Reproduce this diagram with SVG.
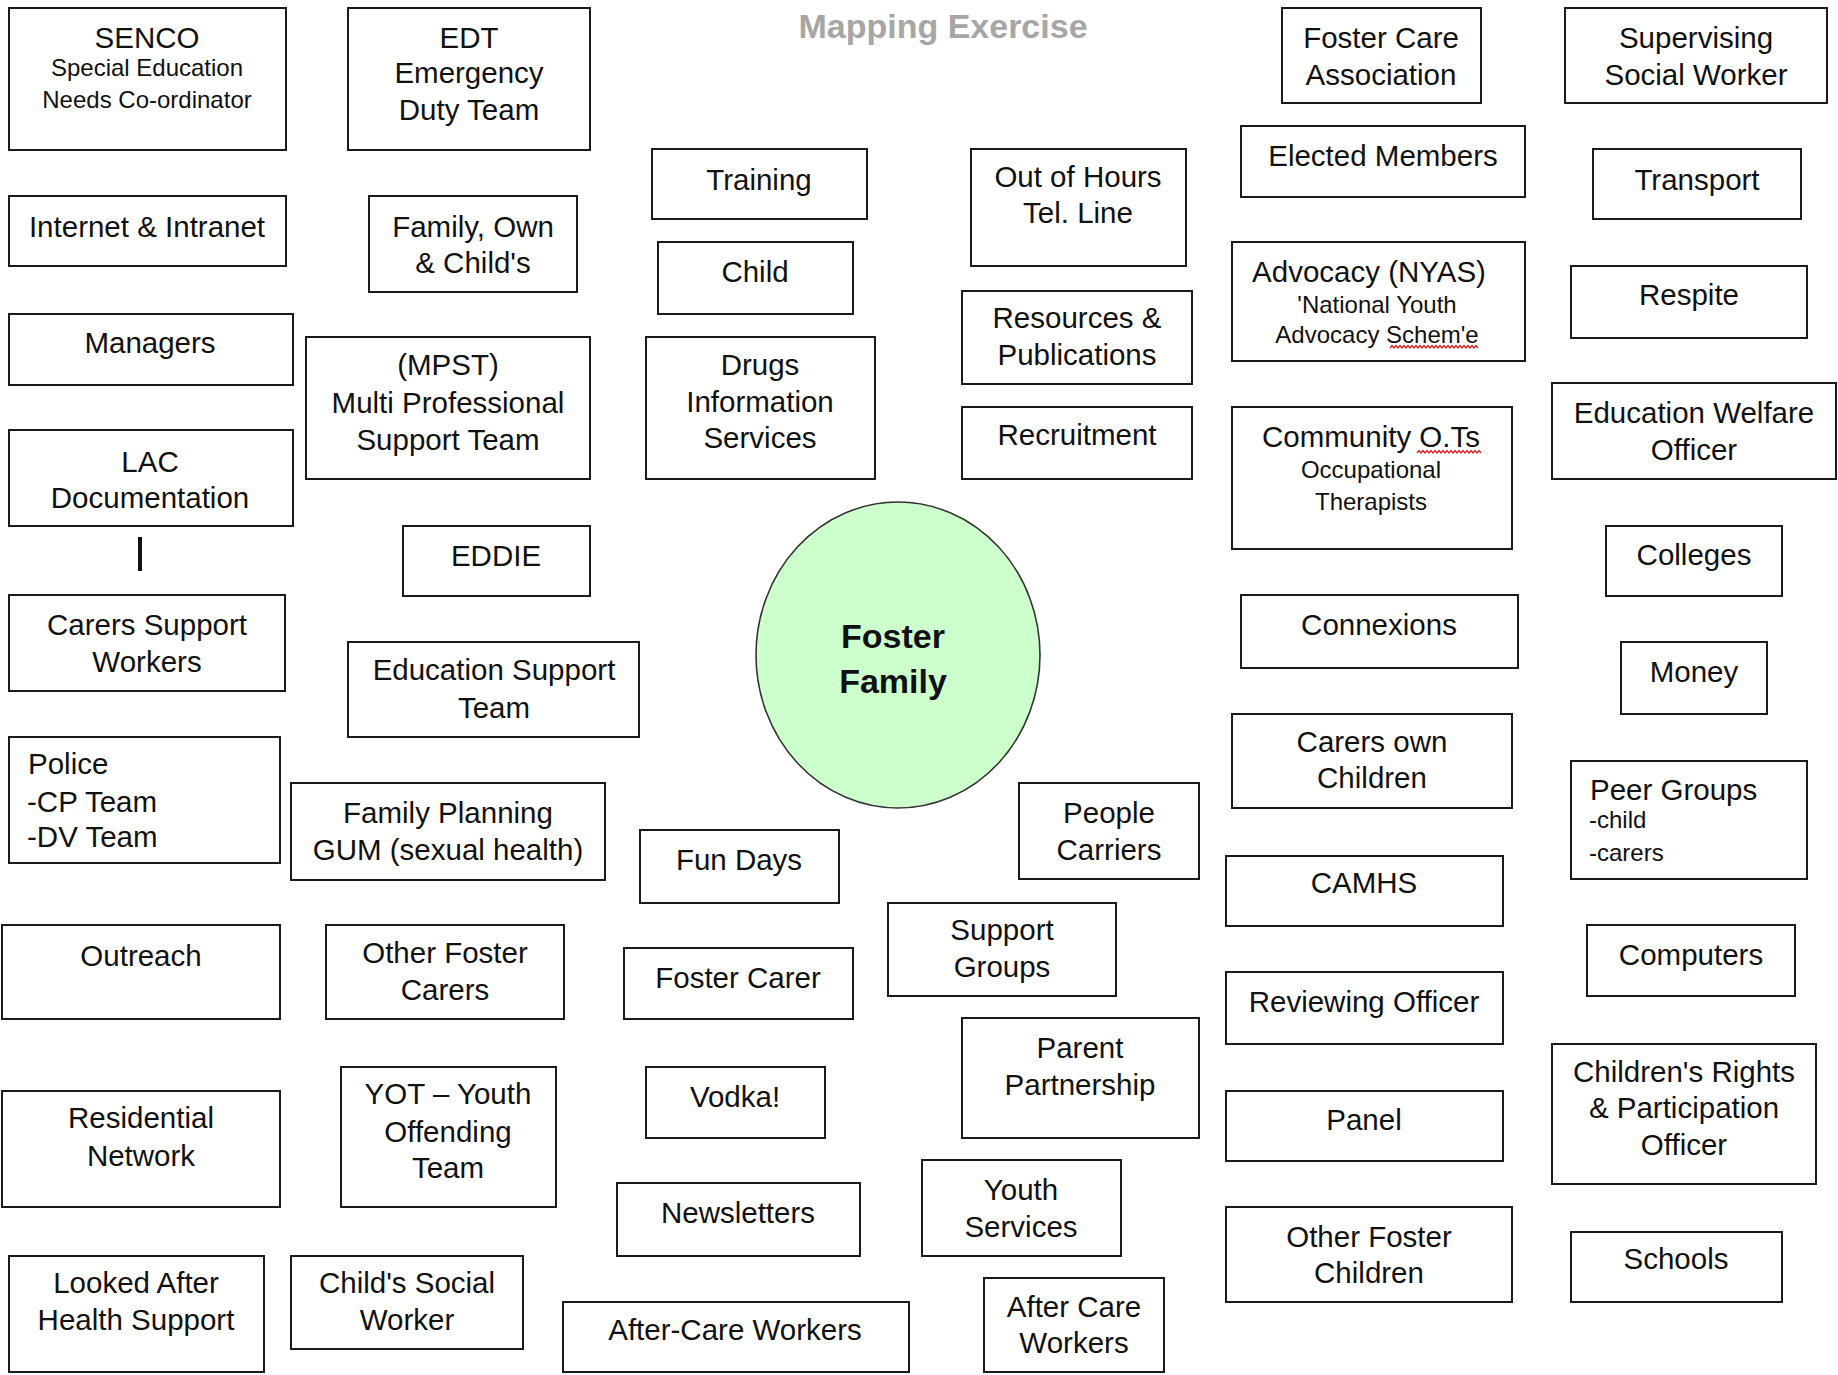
<svg xmlns="http://www.w3.org/2000/svg" width="1838" height="1375" viewBox="0 0 1838 1375">
<style>
.b{fill:#fff;stroke:#1a1a1a;stroke-width:2}
.t{font-family:"Liberation Sans",Arial,sans-serif;font-size:29.5px;fill:#111;text-anchor:middle}
.s{font-size:24px}
.l{text-anchor:start}
.title{font-family:"Liberation Sans",Arial,sans-serif;font-size:34px;font-weight:bold;fill:#a6a6a6;text-anchor:middle}
.ff{font-family:"Liberation Sans",Arial,sans-serif;font-size:34px;font-weight:bold;fill:#111;text-anchor:middle}
.sq{fill:none;stroke:#e02020;stroke-width:1.3}
</style>
<rect width="1838" height="1375" fill="#fff"/>
<text class="title" x="943" y="38">Mapping Exercise</text>

<g id="connectors">
<line x1="140" y1="537" x2="140" y2="571" stroke="#111" stroke-width="4"/>
</g>

<g id="senco"><rect class="b" x="9" y="8" width="277" height="142"/><text class="t" x="147" y="48">SENCO</text><text class="t s" x="147" y="76">Special Education</text><text class="t s" x="147" y="108">Needs Co-ordinator</text></g>
<g id="internet"><rect class="b" x="9" y="196" width="277" height="70"/><text class="t" x="147" y="237">Internet &amp; Intranet</text></g>
<g id="managers"><rect class="b" x="9" y="314" width="284" height="71"/><text class="t" x="150" y="353">Managers</text></g>
<g id="lac"><rect class="b" x="9" y="430" width="284" height="96"/><text class="t" x="150" y="472">LAC</text><text class="t" x="150" y="508">Documentation</text></g>
<g id="carers-support"><rect class="b" x="9" y="595" width="276" height="96"/><text class="t" x="147" y="635">Carers Support</text><text class="t" x="147" y="672">Workers</text></g>
<g id="police"><rect class="b" x="9" y="737" width="271" height="126"/><text class="t l" x="28" y="774">Police</text><text class="t l" x="27" y="812">-CP Team</text><text class="t l" x="27" y="847">-DV Team</text></g>
<g id="outreach"><rect class="b" x="2" y="925" width="278" height="94"/><text class="t" x="141" y="966">Outreach</text></g>
<g id="residential"><rect class="b" x="2" y="1091" width="278" height="116"/><text class="t" x="141" y="1128">Residential</text><text class="t" x="141" y="1166">Network</text></g>
<g id="looked-after"><rect class="b" x="9" y="1256" width="255" height="116"/><text class="t" x="136" y="1293">Looked After</text><text class="t" x="136" y="1330">Health Support</text></g>

<g id="edt"><rect class="b" x="348" y="8" width="242" height="142"/><text class="t" x="469" y="48">EDT</text><text class="t" x="469" y="83">Emergency</text><text class="t" x="469" y="120">Duty Team</text></g>
<g id="family-own"><rect class="b" x="369" y="196" width="208" height="96"/><text class="t" x="473" y="237">Family, Own</text><text class="t" x="473" y="273">&amp; Child's</text></g>
<g id="mpst"><rect class="b" x="306" y="337" width="284" height="142"/><text class="t" x="448" y="375">(MPST)</text><text class="t" x="448" y="413">Multi Professional</text><text class="t" x="448" y="450">Support Team</text></g>
<g id="eddie"><rect class="b" x="403" y="526" width="187" height="70"/><text class="t" x="496" y="566">EDDIE</text></g>
<g id="education-support"><rect class="b" x="348" y="642" width="291" height="95"/><text class="t" x="494" y="680">Education Support</text><text class="t" x="494" y="718">Team</text></g>
<g id="family-planning"><rect class="b" x="291" y="783" width="314" height="97"/><text class="t" x="448" y="823">Family Planning</text><text class="t" x="448" y="860">GUM (sexual health)</text></g>
<g id="other-foster-carers"><rect class="b" x="326" y="925" width="238" height="94"/><text class="t" x="445" y="963">Other Foster</text><text class="t" x="445" y="1000">Carers</text></g>
<g id="yot"><rect class="b" x="341" y="1067" width="215" height="140"/><text class="t" x="448" y="1104">YOT – Youth</text><text class="t" x="448" y="1142">Offending</text><text class="t" x="448" y="1178">Team</text></g>
<g id="childs-social-worker"><rect class="b" x="291" y="1256" width="232" height="93"/><text class="t" x="407" y="1293">Child's Social</text><text class="t" x="407" y="1330">Worker</text></g>

<g id="training"><rect class="b" x="652" y="149" width="215" height="70"/><text class="t" x="759" y="190">Training</text></g>
<g id="child"><rect class="b" x="658" y="242" width="195" height="72"/><text class="t" x="755" y="282">Child</text></g>
<g id="drugs"><rect class="b" x="646" y="337" width="229" height="142"/><text class="t" x="760" y="375">Drugs</text><text class="t" x="760" y="412">Information</text><text class="t" x="760" y="448">Services</text></g>
<g id="out-of-hours"><rect class="b" x="971" y="149" width="215" height="117"/><text class="t" x="1078" y="187">Out of Hours</text><text class="t" x="1078" y="223">Tel. Line</text></g>
<g id="resources"><rect class="b" x="962" y="291" width="230" height="93"/><text class="t" x="1077" y="328">Resources &amp;</text><text class="t" x="1077" y="365">Publications</text></g>
<g id="recruitment"><rect class="b" x="962" y="407" width="230" height="72"/><text class="t" x="1077" y="445">Recruitment</text></g>

<g id="foster-family"><ellipse cx="898" cy="655" rx="142" ry="153" fill="#ccffcc" stroke="#333" stroke-width="1.6"/><text class="ff" x="893" y="648">Foster</text><text class="ff" x="893" y="693">Family</text></g>

<g id="fun-days"><rect class="b" x="640" y="830" width="199" height="73"/><text class="t" x="739" y="870">Fun Days</text></g>
<g id="people-carriers"><rect class="b" x="1019" y="783" width="180" height="96"/><text class="t" x="1109" y="823">People</text><text class="t" x="1109" y="860">Carriers</text></g>
<g id="support-groups"><rect class="b" x="888" y="903" width="228" height="93"/><text class="t" x="1002" y="940">Support</text><text class="t" x="1002" y="977">Groups</text></g>
<g id="foster-carer"><rect class="b" x="624" y="948" width="229" height="71"/><text class="t" x="738" y="988">Foster Carer</text></g>
<g id="parent-partnership"><rect class="b" x="962" y="1018" width="237" height="120"/><text class="t" x="1080" y="1058">Parent</text><text class="t" x="1080" y="1095">Partnership</text></g>
<g id="vodka"><rect class="b" x="646" y="1067" width="179" height="71"/><text class="t" x="735" y="1107">Vodka!</text></g>
<g id="newsletters"><rect class="b" x="617" y="1183" width="243" height="73"/><text class="t" x="738" y="1223">Newsletters</text></g>
<g id="youth-services"><rect class="b" x="922" y="1160" width="199" height="96"/><text class="t" x="1021" y="1200">Youth</text><text class="t" x="1021" y="1237">Services</text></g>
<g id="after-care-workers-1"><rect class="b" x="563" y="1302" width="346" height="70"/><text class="t" x="735" y="1340">After-Care Workers</text></g>
<g id="after-care-workers-2"><rect class="b" x="984" y="1278" width="180" height="94"/><text class="t" x="1074" y="1317">After Care</text><text class="t" x="1074" y="1353">Workers</text></g>

<g id="foster-care-association"><rect class="b" x="1282" y="8" width="199" height="95"/><text class="t" x="1381" y="48">Foster Care</text><text class="t" x="1381" y="85">Association</text></g>
<g id="supervising"><rect class="b" x="1565" y="8" width="262" height="95"/><text class="t" x="1696" y="48">Supervising</text><text class="t" x="1696" y="85">Social Worker</text></g>
<g id="elected-members"><rect class="b" x="1241" y="126" width="284" height="71"/><text class="t" x="1383" y="166">Elected Members</text></g>
<g id="transport"><rect class="b" x="1593" y="149" width="208" height="70"/><text class="t" x="1697" y="190">Transport</text></g>
<g id="advocacy"><rect class="b" x="1232" y="242" width="293" height="119"/><text class="t" x="1369" y="282">Advocacy (NYAS)</text><text class="t s" x="1377" y="313">'National Youth</text><text class="t s" x="1377" y="343">Advocacy Schem'e</text><path class="sq" d="M1390,348 l2,-2.5 l2,2.5 l2,-2.5 l2,2.5 l2,-2.5 l2,2.5 l2,-2.5 l2,2.5 l2,-2.5 l2,2.5 l2,-2.5 l2,2.5 l2,-2.5 l2,2.5 l2,-2.5 l2,2.5 l2,-2.5 l2,2.5 l2,-2.5 l2,2.5 l2,-2.5 l2,2.5 l2,-2.5 l2,2.5 l2,-2.5 l2,2.5 l2,-2.5 l2,2.5 l2,-2.5 l2,2.5 l2,-2.5 l2,2.5 l2,-2.5 l2,2.5 l2,-2.5 l2,2.5 l2,-2.5 l2,2.5 l2,-2.5 l2,2.5 l2,-2.5 l2,2.5 l2,-2.5 l2,2.5"/></g>
<g id="respite"><rect class="b" x="1571" y="266" width="236" height="72"/><text class="t" x="1689" y="305">Respite</text></g>
<g id="community-ots"><rect class="b" x="1232" y="407" width="280" height="142"/><text class="t" x="1371" y="447">Community O.Ts</text><text class="t s" x="1371" y="478">Occupational</text><text class="t s" x="1371" y="510">Therapists</text><path class="sq" d="M1417,453 l2,-2.5 l2,2.5 l2,-2.5 l2,2.5 l2,-2.5 l2,2.5 l2,-2.5 l2,2.5 l2,-2.5 l2,2.5 l2,-2.5 l2,2.5 l2,-2.5 l2,2.5 l2,-2.5 l2,2.5 l2,-2.5 l2,2.5 l2,-2.5 l2,2.5 l2,-2.5 l2,2.5 l2,-2.5 l2,2.5 l2,-2.5 l2,2.5 l2,-2.5 l2,2.5 l2,-2.5 l2,2.5 l2,-2.5 l2,2.5"/></g>
<g id="education-welfare"><rect class="b" x="1552" y="383" width="284" height="96"/><text class="t" x="1694" y="423">Education Welfare</text><text class="t" x="1694" y="460">Officer</text></g>
<g id="colleges"><rect class="b" x="1606" y="526" width="176" height="70"/><text class="t" x="1694" y="565">Colleges</text></g>
<g id="connexions"><rect class="b" x="1241" y="595" width="277" height="73"/><text class="t" x="1379" y="635">Connexions</text></g>
<g id="money"><rect class="b" x="1621" y="642" width="146" height="72"/><text class="t" x="1694" y="682">Money</text></g>
<g id="carers-own-children"><rect class="b" x="1232" y="714" width="280" height="94"/><text class="t" x="1372" y="752">Carers own</text><text class="t" x="1372" y="788">Children</text></g>
<g id="peer-groups"><rect class="b" x="1571" y="761" width="236" height="118"/><text class="t l" x="1590" y="800">Peer Groups</text><text class="t s l" x="1589" y="828">-child</text><text class="t s l" x="1589" y="861">-carers</text></g>
<g id="camhs"><rect class="b" x="1226" y="856" width="277" height="70"/><text class="t" x="1364" y="893">CAMHS</text></g>
<g id="computers"><rect class="b" x="1587" y="925" width="208" height="71"/><text class="t" x="1691" y="965">Computers</text></g>
<g id="reviewing-officer"><rect class="b" x="1226" y="972" width="277" height="72"/><text class="t" x="1364" y="1012">Reviewing Officer</text></g>
<g id="childrens-rights"><rect class="b" x="1552" y="1044" width="264" height="140"/><text class="t" x="1684" y="1082">Children's Rights</text><text class="t" x="1684" y="1118">&amp; Participation</text><text class="t" x="1684" y="1155">Officer</text></g>
<g id="panel"><rect class="b" x="1226" y="1091" width="277" height="70"/><text class="t" x="1364" y="1130">Panel</text></g>
<g id="other-foster-children"><rect class="b" x="1226" y="1207" width="286" height="95"/><text class="t" x="1369" y="1247">Other Foster</text><text class="t" x="1369" y="1283">Children</text></g>
<g id="schools"><rect class="b" x="1571" y="1232" width="211" height="70"/><text class="t" x="1676" y="1269">Schools</text></g>
</svg>
